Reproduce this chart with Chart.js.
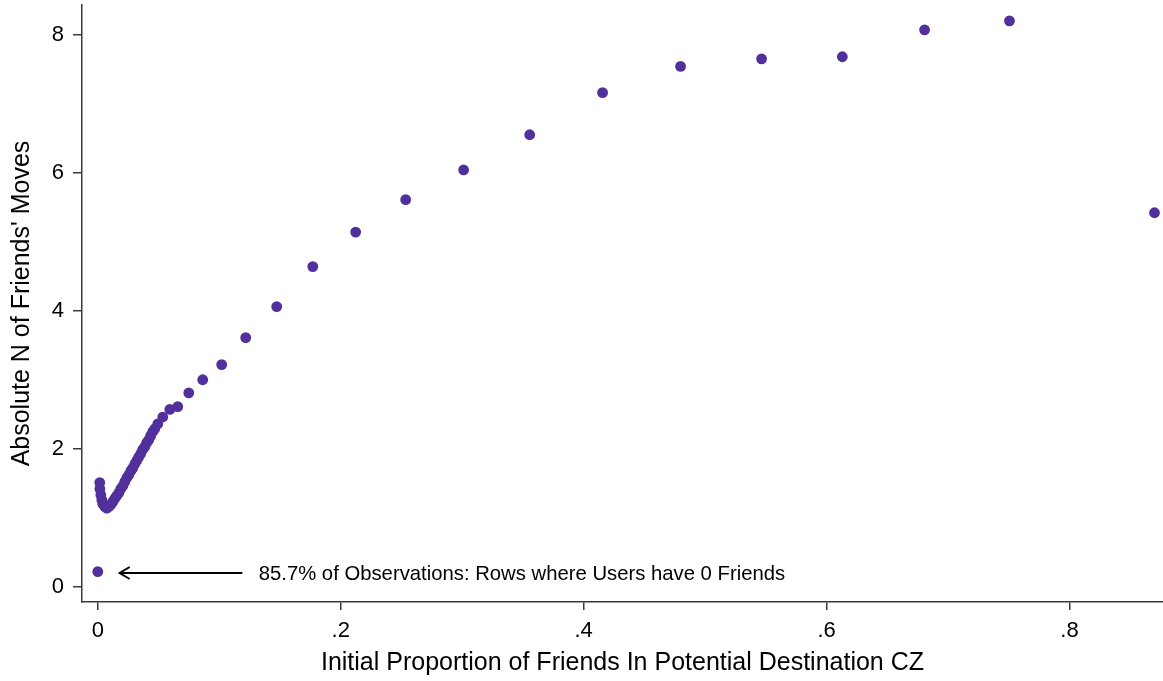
<!DOCTYPE html>
<html>
<head>
<meta charset="utf-8">
<script src="https://cdn.jsdelivr.net/npm/chart.js@4/dist/chart.umd.min.js"></script>
<style>
  html, body { margin: 0; padding: 0; background: #fff; }
  #wrap { width: 1163px; height: 681px; }
</style>
</head>
<body>
<div id="wrap"><canvas id="myChart"></canvas></div>
<script>
// binned means
const xValues = [0.0, 0.0016, 0.0017, 0.0025, 0.0033, 0.0041, 0.0058, 0.0074, 0.0091, 0.0107,
  0.0123, 0.014, 0.0156, 0.0173, 0.0189, 0.0206, 0.0222, 0.0239, 0.0255, 0.0272,
  0.0288, 0.0305, 0.0321, 0.0337, 0.0354, 0.037, 0.0387, 0.0403, 0.042, 0.0436,
  0.0453, 0.0469, 0.0494, 0.0535, 0.0593, 0.0658, 0.0749, 0.0864, 0.102, 0.1218,
  0.1473, 0.177, 0.2123, 0.2535, 0.3012, 0.3556, 0.4156, 0.4798, 0.5465, 0.613,
  0.6807, 0.7506, 0.87];
const yValues = [0.22, 1.51, 1.42, 1.33, 1.26, 1.20, 1.16, 1.14, 1.16, 1.19,
  1.23, 1.28, 1.32, 1.36, 1.42, 1.46, 1.52, 1.58, 1.62, 1.68,
  1.72, 1.78, 1.83, 1.88, 1.93, 1.99, 2.03, 2.09, 2.13, 2.19,
  2.25, 2.29, 2.36, 2.46, 2.57, 2.61, 2.81, 3.0, 3.22, 3.61,
  4.06, 4.64, 5.14, 5.61, 6.04, 6.55, 7.16, 7.54, 7.65, 7.68,
  8.07, 8.20, 5.42];
const xTicks = [0, 0.2, 0.4, 0.6, 0.8];
const yTicks = [0, 2, 4, 6, 8];
const noteText = '85.7% of Observations: Rows where Users have 0 Friends';

const dotColor = '#52309c';
const axisColor = '#3a3a3a';
const fontFamily = '"Liberation Sans", Arial, Helvetica, sans-serif';

// arrow + note pointing at the zero-friends point
const notePlugin = {
  id: 'note',
  afterDraw(chart) {
    const c = chart.ctx, xs = chart.scales.x, ys = chart.scales.y;
    const y = ys.getPixelForValue(0.2);
    const tail = xs.getPixelForValue(0.119);
    const head = xs.getPixelForValue(0.018);
    c.save();
    c.strokeStyle = '#000';
    c.lineWidth = 2;
    c.beginPath();
    c.moveTo(tail, y);
    c.lineTo(head, y);
    c.moveTo(head + 10, y - 6);
    c.lineTo(head, y);
    c.lineTo(head + 10, y + 6);
    c.stroke();
    c.fillStyle = '#000';
    c.font = '20.3px ' + fontFamily;
    c.textBaseline = 'middle';
    c.fillText(noteText, xs.getPixelForValue(0.1325), y + 1);
    c.restore();
  }
};

const ctx = document.getElementById('myChart').getContext('2d');
const myChart = new Chart(ctx, {
  type: 'scatter',
  data: {
    datasets: [{
      data: xValues.map((x, i) => ({ x: x, y: yValues[i] })),
      backgroundColor: dotColor,
      borderWidth: 0,
      pointRadius: 5.4
    }]
  },
  options: {
    responsive: true,
    maintainAspectRatio: false,
    animation: false,
    layout: { autoPadding: false, padding: { left: 0, top: 5, right: 0, bottom: 0 } },
    plugins: { legend: { display: false }, tooltip: { enabled: false } },
    scales: {
      x: {
        min: -0.013,
        max: 0.877,
        afterBuildTicks: axis => { axis.ticks = xTicks.map(v => ({ value: v })); },
        afterFit: scale => {
          scale.height = 79;
          scale.paddingLeft = 0;
          scale.paddingRight = 0;
        },
        grid: { drawOnChartArea: false, drawTicks: true, tickLength: 8, color: axisColor, lineWidth: 1.5 },
        border: { display: true, color: axisColor, width: 1.5 },
        ticks: {
          padding: 8,
          color: '#000',
          font: { family: fontFamily, size: 22 },
          callback: v => v === 0 ? '0' : String(v).replace(/^0/, '')
        },
        title: {
          display: true,
          text: 'Initial Proportion of Friends In Potential Destination CZ',
          color: '#000',
          font: { family: fontFamily, size: 25 },
          padding: { bottom: 3 }
        }
      },
      y: {
        min: -0.22,
        max: 8.43,
        afterBuildTicks: axis => { axis.ticks = yTicks.map(v => ({ value: v })); },
        afterFit: scale => {
          scale.width = 82;
          scale.paddingTop = 0;
          scale.paddingBottom = 0;
        },
        grid: { drawOnChartArea: false, drawTicks: true, tickLength: 9, color: axisColor, lineWidth: 1.5 },
        border: { display: true, color: axisColor, width: 1.5 },
        ticks: {
          padding: 9,
          color: '#000',
          font: { family: fontFamily, size: 22 }
        },
        title: {
          display: true,
          text: "Absolute N of Friends' Moves",
          color: '#000',
          font: { family: fontFamily, size: 25 },
          padding: { top: 7 }
        }
      }
    }
  },
  plugins: [notePlugin]
});
</script>
</body>
</html>
